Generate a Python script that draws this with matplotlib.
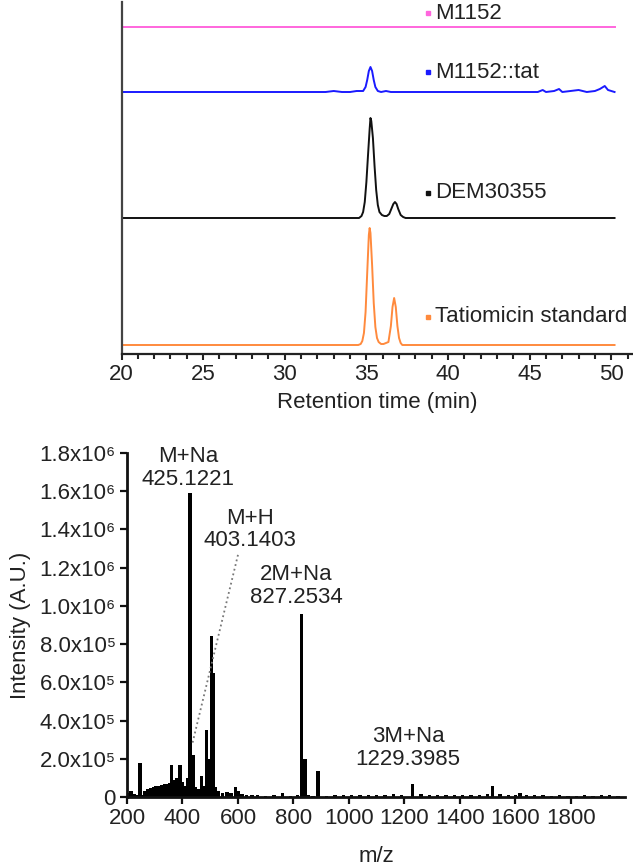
import matplotlib
matplotlib.use("Agg")
import matplotlib.pyplot as plt
from matplotlib.ticker import MultipleLocator, FixedLocator

plt.rcParams['font.family'] = ['Liberation Sans', 'DejaVu Sans']
FS = 16
plt.rcParams['font.size'] = FS

# ---------------- HPLC traces (retention time in min, intensity a.u.) ----------------
std_t = [20, 34.5, 34.65, 34.75, 34.85, 34.95, 35.05, 35.15, 35.2, 35.25, 35.35, 35.45, 35.55, 35.65,
         35.75, 35.9, 36.05, 36.2, 36.35, 36.5, 36.6, 36.7, 36.8, 36.9, 37.0, 37.1, 37.2, 37.35, 50.2]
std_v = [0, 0, 1, 4, 12, 33, 72, 110, 117, 112, 80, 42, 18, 7,
         3, 1, 1, 2, 3, 19, 38, 47, 38, 19, 7, 2, 0, 0, 0]

dem_t = [20, 34.55, 34.7, 34.8, 34.9, 35.0, 35.1, 35.2, 35.25, 35.3, 35.4, 35.5, 35.6, 35.7, 35.8,
         35.95, 36.1, 36.25, 36.4, 36.55, 36.65, 36.75, 36.85, 36.95, 37.1, 37.25, 37.4, 50.2]
dem_v = [0, 0, 2, 6, 16, 36, 63, 89, 100, 97, 80, 52, 28, 13, 6,
         3, 2, 2, 4, 10, 14, 16, 14, 9, 3, 1, 0, 0]

tat_t = [20, 32.5, 33.0, 33.5, 34.0, 34.4, 34.8, 34.95, 35.05, 35.15, 35.25, 35.35, 35.45, 35.55,
         35.7, 35.9, 36.2, 36.5, 45.5, 45.8, 46.0, 46.5, 46.8, 47.0, 47.5, 48.0, 48.5, 49.0, 49.3,
         49.6, 49.8, 50.0, 50.2]
tat_v = [0, 0, 1, 0, 0, 1, 1, 5, 12, 21, 25, 21, 12, 5,
         1, 0, 1, 0, 0, 2, 0, 1, 3, 0, 1, 2, 0, 1, 3,
         6, 2, 1, 0]

m1152_t = [20, 50.2]
m1152_v = [0, 0]

trace_names = ["M1152", "M1152::tat", "DEM30355", "Tatiomicin standard"]
trace_colors = ["#ff66dd", "#1a1aff", "#111111", "#ff8a3d"]
trace_offsets = [327, 262, 136, 9]
label_y = [341, 282, 161, 37]

# ---------------- MS spectrum ----------------
ms_mz = [205, 215, 225, 235, 247, 255, 265, 275, 285, 295, 305, 315, 325, 335, 345, 352, 361, 370,
         378, 391, 400, 410, 418, 427, 438, 448, 458, 469, 478, 487, 495, 505, 512, 520, 530, 545,
         560, 575, 590, 600, 615, 630, 650, 670, 700, 730, 760, 790, 815, 829, 841, 855, 870, 888,
         920, 950, 980, 1010, 1040, 1070, 1100, 1130, 1160, 1190, 1230, 1260, 1290, 1320, 1350,
         1380, 1410, 1440, 1470, 1500, 1518, 1545, 1575, 1600, 1616, 1640, 1670, 1700, 1730, 1760,
         1790, 1820, 1850, 1880, 1910, 1940, 1970]
ms_int = [0.2, 0.3, 0.15, 0.1, 1.78, 0.1, 0.3, 0.4, 0.45, 0.5, 0.55, 0.6, 0.65, 0.7, 0.7, 0.75, 1.7, 0.9,
          1.0, 1.7, 0.8, 0.6, 1.0, 15.9, 2.2, 0.5, 0.4, 1.1, 0.6, 3.5, 2.0, 8.4, 6.5, 0.5, 0.3, 0.2,
          0.25, 0.2, 0.5, 0.3, 0.15, 0.1, 0.08, 0.1, 0.05, 0.08, 0.2, 0.05, 0.1, 9.6, 2.0, 0.1, 0.05, 1.35,
          0.05, 0.08, 0.1, 0.08, 0.12, 0.1, 0.12, 0.1, 0.15, 0.1, 0.7, 0.15, 0.12, 0.1, 0.12,
          0.1, 0.12, 0.1, 0.12, 0.15, 0.6, 0.15, 0.12, 0.1, 0.2, 0.1, 0.08, 0.1, 0.06, 0.08,
          0.05, 0.06, 0.08, 0.05, 0.1, 0.08, 0.05]  # x1e5

ms_labels = ["M+Na\n425.1221", "M+H\n403.1403", "2M+Na\n827.2534", "3M+Na\n1229.3985"]
ms_label_x = [420, 643, 809, 1213]
ms_label_y = [1.72e6, 1.40e6, 1.105e6, 0.256e6]

ms_yticks = [0, 2e5, 4e5, 6e5, 8e5, 1e6, 1.2e6, 1.4e6, 1.6e6, 1.8e6]
ms_yticklabels = ["0", "2.0x10⁵", "4.0x10⁵", "6.0x10⁵", "8.0x10⁵",
                  "1.0x10⁶", "1.2x10⁶", "1.4x10⁶", "1.6x10⁶", "1.8x10⁶"]
ms_xticks = [200, 400, 600, 800, 1000, 1200, 1400, 1600, 1800]

W, H = 633, 866
fig = plt.figure(figsize=(W / 100, H / 100), dpi=100)
txt = "#222222"

# ---------------- top panel ----------------
ax1 = fig.add_axes([121.5 / W, 1 - 354 / H, 511 / W, 352 / H])
traces = [(m1152_t, m1152_v), (tat_t, tat_v), (dem_t, dem_v), (std_t, std_v)]
for (t, v), name, c, off, ly in zip(traces, trace_names, trace_colors, trace_offsets, label_y):
    ax1.plot(t, [off + x for x in v], color=c, lw=1.4, solid_joinstyle='round')
    ax1.plot([38.75], [ly], marker='s', ms=3.5, color=c, ls='none')
    ax1.text(39.2, ly, name, color=txt, va='center', ha='left', fontsize=FS)

ax1.set_xlim(20, 51.3)
ax1.set_ylim(0, 352)
for s in ['top', 'right']:
    ax1.spines[s].set_visible(False)
ax1.spines['left'].set_linewidth(1.6)
ax1.spines['left'].set_color('#444444')
ax1.spines['bottom'].set_linewidth(1.6)
ax1.spines['bottom'].set_color('#222222')
ax1.set_yticks([])
ax1.xaxis.set_major_locator(MultipleLocator(5))
ax1.xaxis.set_minor_locator(MultipleLocator(1))
ax1.tick_params(axis='x', which='major', direction='out', length=4, width=1.5, colors='#222222',
                labelsize=FS, labelcolor=txt, pad=3)
ax1.tick_params(axis='x', which='minor', direction='out', length=3.5, width=1.5, colors='#222222')
ax1.set_xlabel("Retention time (min)", fontsize=FS, color=txt, labelpad=5)

# ---------------- bottom panel ----------------
ax2 = fig.add_axes([127 / W, 1 - 797 / H, 498 / W, 344 / H])
ax2.bar(ms_mz, [v * 1e5 for v in ms_int], width=12, color='black', linewidth=0)
ax2.plot([600, 434], [1.267e6, 0.27e6], color='#777777', ls=':', lw=1.3)
for s, x, y in zip(ms_labels, ms_label_x, ms_label_y):
    ax2.text(x, y, s, ha='center', va='center', fontsize=FS, color=txt, linespacing=1.1)

ax2.set_xlim(200, 1995)
ax2.set_ylim(0, 1.8e6)
for s in ['top', 'right']:
    ax2.spines[s].set_visible(False)
for s in ['left', 'bottom']:
    ax2.spines[s].set_linewidth(2.0)
    ax2.spines[s].set_color('#111111')
ax2.yaxis.set_major_locator(FixedLocator(ms_yticks))
ax2.set_yticklabels(ms_yticklabels)
ax2.xaxis.set_major_locator(FixedLocator(ms_xticks))
ax2.tick_params(direction='out', length=5, width=1.6, colors='#111111', labelsize=FS,
                labelcolor=txt, pad=3)
ax2.set_ylabel("Intensity (A.U.)", fontsize=FS, color=txt, labelpad=6)
ax2.set_xlabel("m/z", fontsize=FS, color=txt, labelpad=12)

fig.savefig("out.png", dpi=100)
